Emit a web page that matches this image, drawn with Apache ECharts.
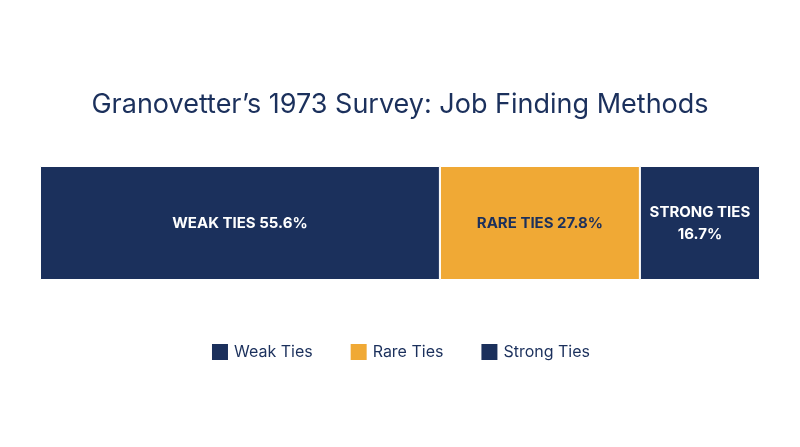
<!DOCTYPE html>
<html><head><meta charset="utf-8">
<script src="https://cdn.jsdelivr.net/npm/echarts@6/dist/echarts.min.js"></script>
<style>html,body{margin:0;background:#fff}#c{width:800px;height:447px}</style>
</head><body><div id="c"></div>
<script>
const seriesNames = ['Weak Ties', 'Rare Ties', 'Strong Ties'];
const seriesValues = [55.6, 27.8, 16.7];
const seriesLabels = ['WEAK TIES 55.6%', 'RARE TIES 27.8%', 'STRONG TIES\n16.7%'];
const colors = ['#1b305c', '#f0a935', '#1b305c'];
const total = seriesValues.reduce((a, b) => a + b, 0);
const chart = echarts.init(document.getElementById('c'));
chart.setOption({
  title: {text: 'Granovetter’s 1973 Survey: Job Finding Methods', left: 'center', top: 86,
    textStyle: {color: '#1b305c', fontSize: 27, fontWeight: 'normal', fontFamily: 'Inter'}},
  legend: {bottom: 80, itemWidth: 18, itemHeight: 18, itemGap: 36, icon: 'rect',
    textStyle: {color: '#1b305c', fontSize: 16, fontFamily: 'Inter'}},
  grid: {left: 40, right: 40, top: 166, height: 114},
  xAxis: {type: 'value', min: 0, max: total, show: false},
  yAxis: {type: 'category', data: ['Methods'], show: false},
  series: seriesNames.map((n, i) => ({
    name: n, type: 'bar', stack: 's', barWidth: '100%',
    data: [seriesValues[i]],
    itemStyle: {color: colors[i], borderColor: '#fff', borderWidth: 1},
    label: {show: true, position: 'inside', formatter: seriesLabels[i], color: i === 1 ? '#1b305c' : '#fff',
      fontSize: 15, fontWeight: 'bold', fontFamily: 'Inter', lineHeight: 22}
  }))
});
</script></body></html>
